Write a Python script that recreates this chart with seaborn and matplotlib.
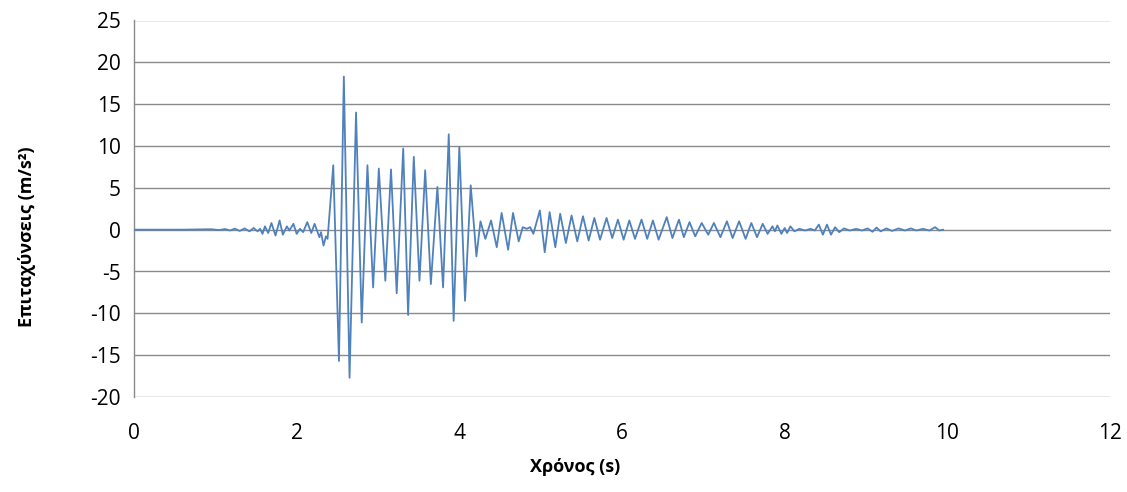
import matplotlib
matplotlib.use("Agg")
import matplotlib.pyplot as plt
import seaborn as sns
import pandas as pd

# ---- data (extrema of the accelerogram) ----
time_s = [
    0.00, 0.60, 0.95, 1.05, 1.12, 1.18, 1.24, 1.30, 1.36, 1.42, 1.47, 1.52, 1.55, 1.58,
    1.61, 1.65, 1.69, 1.74, 1.79, 1.83, 1.88, 1.91, 1.96, 2.00, 2.04, 2.08, 2.13, 2.18,
    2.22, 2.28, 2.30, 2.33, 2.36, 2.38,
    2.45, 2.52, 2.58, 2.65, 2.73, 2.80, 2.87, 2.94, 3.01, 3.09, 3.16, 3.23, 3.31, 3.37,
    3.44, 3.51, 3.58, 3.65, 3.73, 3.80, 3.87, 3.93, 4.00, 4.07, 4.14, 4.21,
    4.26, 4.32, 4.39, 4.46, 4.52, 4.60, 4.66, 4.73, 4.78, 4.83, 4.87, 4.91, 4.99, 5.05,
    5.11, 5.18, 5.24, 5.31, 5.38, 5.45, 5.52, 5.59, 5.66, 5.73, 5.81, 5.88, 5.95, 6.02,
    6.09, 6.16, 6.24, 6.31, 6.38, 6.45, 6.55, 6.62, 6.70, 6.76, 6.83, 6.90, 6.98,
    7.06, 7.13, 7.21, 7.29, 7.36, 7.44, 7.52, 7.59, 7.66, 7.73, 7.79, 7.85, 7.88, 7.91,
    7.96, 8.00, 8.03, 8.07, 8.12, 8.18, 8.25, 8.32, 8.37, 8.42, 8.47, 8.52, 8.57, 8.62,
    8.67, 8.73, 8.80, 8.88, 8.95, 9.02, 9.08, 9.13, 9.18, 9.25, 9.32, 9.40, 9.48, 9.55,
    9.62, 9.70, 9.78, 9.85, 9.90, 9.95,
]
accel_ms2 = [
    0.0, 0.0, 0.05, -0.05, 0.08, -0.1, 0.12, -0.15, 0.15, -0.2, 0.2, -0.2, 0.1, -0.5,
    0.4, -0.4, 0.8, -0.7, 1.1, -0.6, 0.4, -0.1, 0.7, -0.5, 0.1, -0.3, 0.9, -0.4,
    0.7, -0.9, -0.3, -1.9, -0.8, -1.1,
    7.7, -15.7, 18.3, -17.7, 14.0, -11.1, 7.7, -6.9, 7.3, -6.1, 7.2, -7.6, 9.7, -10.2,
    8.7, -6.1, 7.1, -6.5, 5.1, -6.9, 11.4, -10.9, 9.9, -8.5, 5.3, -3.2,
    1.0, -1.1, 1.1, -2.1, 2.0, -2.4, 2.0, -1.4, 0.3, 0.1, 0.3, -0.5, 2.3, -2.7,
    2.1, -2.1, 1.9, -1.6, 1.7, -1.4, 1.6, -1.3, 1.4, -1.2, 1.4, -1.0, 1.2, -1.2,
    1.1, -1.1, 1.2, -1.1, 1.1, -1.2, 1.5, -1.0, 1.2, -0.9, 0.9, -0.8, 0.8,
    -0.6, 0.8, -0.9, 1.0, -1.0, 1.0, -1.1, 0.8, -0.9, 0.7, -0.5, 0.4, -0.2, 0.5,
    -0.5, 0.2, -0.4, 0.4, -0.2, 0.1, -0.1, 0.1, -0.1, 0.6, -0.6, 0.6, -0.6, 0.3,
    -0.3, 0.15, -0.1, 0.1, -0.1, 0.15, -0.25, 0.25, -0.2, 0.15, -0.15, 0.15, -0.1, 0.15,
    -0.1, 0.1, -0.1, 0.3, -0.1, 0.0,
]
x_ticks = [0, 2, 4, 6, 8, 10, 12]
y_ticks = [-20, -15, -10, -5, 0, 5, 10, 15, 20, 25]
x_label = "Χρόνος (s)"
y_label = "Επιταχύνσεις (m/s²)"

df = pd.DataFrame({"t": time_s, "a": accel_ms2})

sns.set_style("white")
plt.rcParams["font.family"] = ["Open Sans", "DejaVu Sans"]

W, H = 1127, 492
fig = plt.figure(figsize=(W / 100, H / 100), dpi=100)
left, right, top, bottom = 134, 1110, 20.5, 397
ax = fig.add_axes([left / W, 1 - bottom / H, (right - left) / W, (bottom - top) / H])

grid_c = "#8a8a8a"
for y in y_ticks:
    if y != 0:
        ax.axhline(y, color=grid_c, lw=1.0, zorder=0)

sns.lineplot(data=df, x="t", y="a", ax=ax, sort=False, estimator=None,
             color="#4f81bd", lw=1.3, zorder=3)

ax.set_xlim(0, 12)
ax.set_ylim(-20, 25)
ax.set_xticks(x_ticks)
ax.set_yticks(y_ticks)
ax.set_xticklabels([str(v) for v in x_ticks])
ax.set_yticklabels([str(v) for v in y_ticks])

for s in ["top", "right"]:
    ax.spines[s].set_visible(False)
ax.spines["left"].set_color(grid_c)
ax.spines["left"].set_linewidth(1.0)
ax.spines["bottom"].set_position(("data", 0))
ax.spines["bottom"].set_color(grid_c)
ax.spines["bottom"].set_linewidth(1.0)
ax.spines["bottom"].set_zorder(1)

ax.tick_params(axis="y", direction="out", length=5.5, width=1.0, color=grid_c,
               labelsize=15, labelcolor="black", pad=4)
ax.tick_params(axis="x", direction="out", length=5, width=1.0, color=grid_c,
               labelsize=15, labelcolor="black", pad=134)

ax.set_xlabel(x_label, fontsize=13, fontweight="bold", color="black")
ax.set_ylabel(y_label, fontsize=13, fontweight="bold", color="black")
ax.xaxis.set_label_coords((575 - left) / (right - left), 1 - (467 - top) / (bottom - top))
ax.yaxis.set_label_coords((27 - left) / (right - left), 1 - (237 - top) / (bottom - top))
ax.xaxis.label.set_va("center")
ax.yaxis.label.set_va("center")

fig.savefig("out.png", dpi=100, facecolor="white")
